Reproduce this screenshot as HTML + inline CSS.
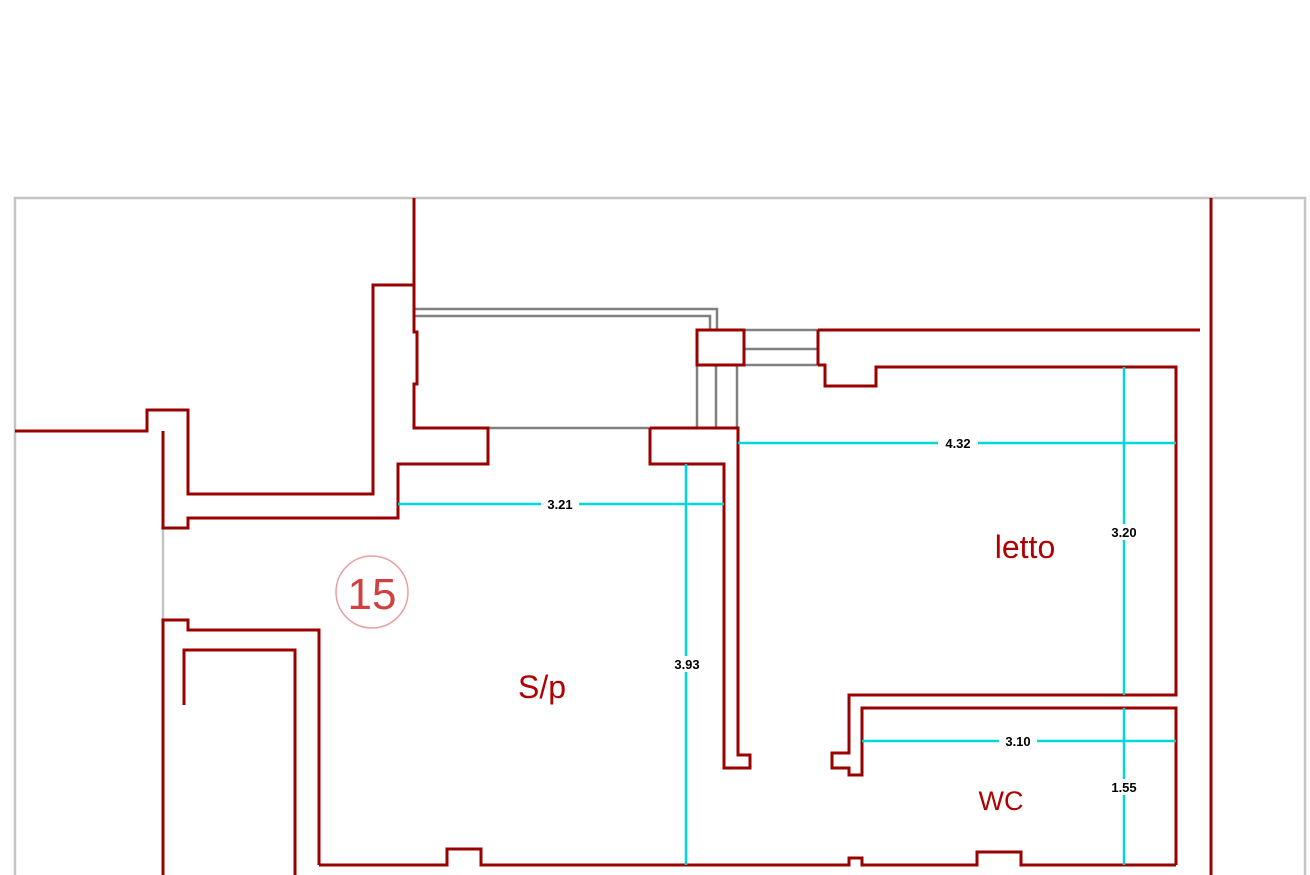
<!DOCTYPE html>
<html><head><meta charset="utf-8"><style>
html,body{margin:0;padding:0;background:#fff;}
svg{display:block;}
text{font-family:"Liberation Sans",sans-serif;}
</style></head><body>
<svg width="1310" height="875" viewBox="0 0 1310 875" xmlns="http://www.w3.org/2000/svg">
<g fill="none" stroke="#c4c4c4" stroke-width="2.5">
<polyline points="15,880 15,198 1305,198 1305,880"/>
<line x1="163" y1="528" x2="163" y2="620"/>
</g>
<g fill="none" stroke="#808080" stroke-width="2.5">
<polyline points="414,309 717,309 717,330"/>
<polyline points="414,316 710,316 710,330"/>
<line x1="488" y1="428" x2="650" y2="428"/>
<line x1="697" y1="365" x2="697" y2="428"/>
<line x1="716" y1="365" x2="716" y2="428"/>
<line x1="737" y1="365" x2="737" y2="428"/>
<line x1="744" y1="330" x2="818" y2="330"/>
<line x1="744" y1="349" x2="818" y2="349"/>
<line x1="744" y1="365" x2="818" y2="365"/>
</g>
<g fill="none" stroke="#990000" stroke-width="3">
<polyline points="15,431 147,431 147,410 188,410 188,494 373,494 373,285 414,285"/>
<polyline points="163,431 163,528 188,528 188,518 398,518 398,464 488,464 488,428 414,428 414,384 417,384 417,332 414,332 414,198"/>
<polyline points="650,428 650,464 724,464 724,768 750,768 750,755 738,755 738,428 650,428"/>
<rect x="697" y="330" width="47" height="35"/>
<line x1="818" y1="330" x2="818" y2="365"/>
<line x1="818" y1="330" x2="1200" y2="330"/>
<polyline points="818,365 825,365 825,386 876,386 876,367 1176,367 1176,695 849,695 849,753 832,753 832,768 849,768 849,775 862,775 862,708 1176,708 1176,865"/>
<polyline points="319,865 447,865 447,849 481,849 481,865 849,865 849,858 862,858 862,865 977,865 977,852 1021,852 1021,865 1176,865"/>
<polyline points="319,865 319,630 188,630 188,620 163,620 163,880"/>
<polyline points="184,705 184,650 295,650 295,880"/>
<line x1="1211" y1="198" x2="1211" y2="880"/>
<circle cx="372" cy="592" r="36" stroke="#e8a0a0" stroke-width="1.5"/>
</g>
<g stroke="#00d8d8" stroke-width="2.5">
<line x1="398" y1="504" x2="724" y2="504"/>
<line x1="738" y1="443" x2="1176" y2="443"/>
<line x1="1124" y1="367" x2="1124" y2="695"/>
<line x1="686" y1="464" x2="686" y2="865"/>
<line x1="862" y1="741" x2="1176" y2="741"/>
<line x1="1124" y1="708" x2="1124" y2="865"/>
</g>
<g font-size="13" font-weight="bold" fill="#000" text-anchor="middle">
<rect x="541" y="496" width="38" height="16" fill="#fff"/><text x="560" y="509">3.21</text>
<rect x="938" y="435" width="40" height="16" fill="#fff"/><text x="958" y="448">4.32</text>
<rect x="1105" y="524" width="38" height="16" fill="#fff"/><text x="1124" y="537">3.20</text>
<rect x="667" y="656" width="38" height="16" fill="#fff"/><text x="687" y="669">3.93</text>
<rect x="999" y="733" width="38" height="16" fill="#fff"/><text x="1018" y="746">3.10</text>
<rect x="1105" y="779" width="38" height="16" fill="#fff"/><text x="1124" y="792">1.55</text>
</g>
<g fill="#b00000" text-anchor="middle">
<text x="1025" y="558" font-size="32">letto</text>
<text x="542" y="698" font-size="32">S/p</text>
<text x="1001" y="810" font-size="27">WC</text>
<text x="372" y="609" font-size="44" fill="#d04040">15</text>
</g>
</svg>
</body></html>
